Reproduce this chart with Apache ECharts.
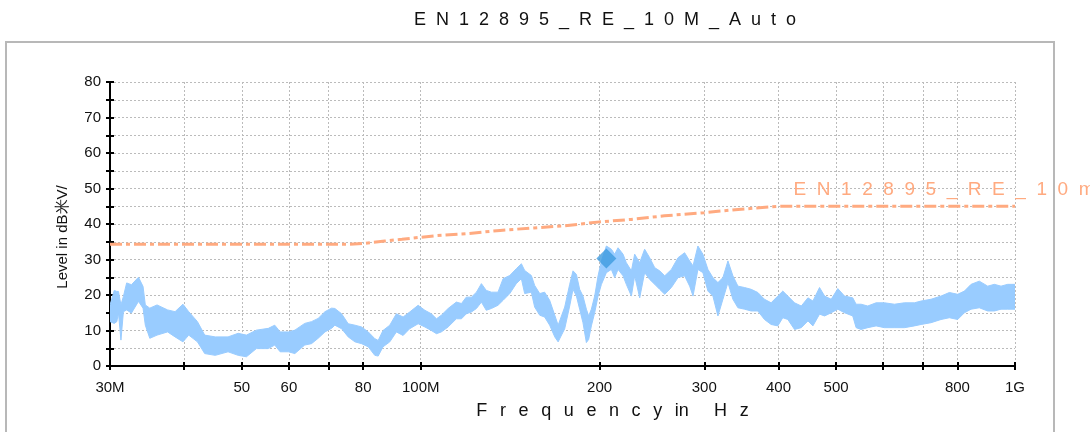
<!DOCTYPE html>
<html><head><meta charset="utf-8">
<script src="https://cdn.jsdelivr.net/npm/echarts@6/dist/echarts.min.js"></script>
<style>html,body{margin:0;padding:0;background:#fff}#c{width:1090px;height:432px}</style>
</head><body><div id="c"></div>
<script>
const TITLE = 'EN12895_RE_10M_Auto';
const X_NAME = 'Frequency in Hz';
const Y_NAME = 'Level in dB米V/';
const LIMIT_NAME = 'EN12895_RE_10m';

const X_TICKS = [30, 40, 50, 60, 70, 80, 100, 200, 300, 400, 500, 600, 700, 800, 1000];
const X_LABELS = [30, 50, 60, 80, 100, 200, 300, 400, 500, 800, 1000];
const X_LABEL_TEXT = {30: '30M', 100: '100M', 1000: '1G'};

// Measured trace envelope (MHz, dB): lower and upper edge of the noisy sweep
const FREQ = [30.0,30.5,30.8,31.0,31.3,31.6,32.0,32.6,33.5,34.1,34.4,35.0,36.0,37.5,38.6,39.8,40.7,42.1,43.3,45.1,47.4,49.3,50.9,52.9,55.4,56.8,58.0,59.9,61.4,63.8,65.5,67.2,69.0,70.8,
  71.7,73.6,75.5,77.5,79.5,81.6,83.7,84.8,86.4,88.7,91.0,93.4,95.8,99.0,101.6,104.2,106.3,108.3,111.2,114.8,117.1,119.3,121.7,124.1,126.5,128.9,131.5,134.9,137.6,141.2,144.8,147.7,149.6,153.5,155.5,158.6,161.6,164.8,168.1,170.3,174.7,
  178.1,180.4,182.8,185.1,187.5,190.0,191.7,193.7,196.2,198.8,201.4,205.3,209.3,212.0,214.8,219.0,221.8,226.2,229.1,233.6,238.1,242.8,247.6,252.4,257.4,264.1,271.0,278.0,283.5,287.2,292.7,298.4,304.3,310.2,316.3,322.5,328.8,335.2,341.8,350.7,359.8,369.2,378.8,388.7,398.9,406.7,414.7,425.6,
  436.9,448.3,457.0,468.9,478.2,490.6,503.4,516.5,533.3,540.3,550.8,565.2,583.8,603.0,626.8,651.5,677.2,695.0,722.3,750.8,775.5,800.9,822.0,843.5,870.8,899.6,923.2,947.3,972.1,1000];
const LO = [12.5,12.0,12.5,14.9,7.3,15.3,15.8,14.9,18.2,16.3,11.5,7.8,8.7,9.6,8.2,6.8,8.7,6.8,3.5,3.0,4.0,3.0,2.6,4.9,4.9,5.9,4.0,4.0,3.5,5.9,6.3,7.8,9.6,10.6,
  11.5,10.5,8.2,6.8,6.3,5.4,3.0,2.8,5.4,6.8,9.6,8.6,10.5,11.9,11.0,10.0,9.1,9.6,11.0,13.3,13.3,14.7,15.2,16.2,18.0,15.7,16.2,17.1,18.5,20.4,23.2,24.6,20.4,20.8,16.6,14.3,13.8,11.5,8.2,6.8,10.5,
  16.9,21.6,19.7,16.0,12.2,6.6,7.5,11.3,15.0,19.7,23.0,26.3,27.2,24.9,27.2,25.4,23.0,19.7,25.4,19.2,26.3,24.4,23.0,21.6,20.2,22.1,24.9,25.4,22.5,19.7,27.2,26.3,21.1,19.7,14.1,18.8,23.5,18.8,16.4,16.0,15.5,15.5,13.1,11.7,11.3,13.6,13.1,10.3,
  10.8,12.7,11.3,14.6,14.1,15.0,16.0,15.0,14.1,10.8,10.3,10.8,11.3,10.8,10.8,10.8,11.3,11.7,12.2,13.1,13.6,13.1,15.0,16.0,16.4,15.5,15.5,16.0,16.0,16.0];
const HI = [17.2,21.3,21.0,21.0,17.2,19.6,23.4,22.9,25.0,22.4,17.2,16.3,17.2,15.8,15.3,17.4,15.3,12.5,8.7,8.2,8.2,9.2,8.7,10.1,10.6,11.5,9.6,9.6,10.1,12.0,12.5,13.4,15.3,16.3,
  16.2,14.7,11.9,11.5,11.0,9.6,7.7,7.2,10.0,11.5,14.7,13.8,15.2,17.1,15.7,14.7,13.3,14.3,16.2,18.0,17.6,19.4,19.4,20.8,23.2,21.3,20.8,20.8,24.6,25.5,27.4,28.8,26.9,25.5,22.7,20.4,20.8,18.5,14.3,11.5,16.6,
  23.0,26.8,25.8,21.6,19.7,16.0,14.1,16.0,19.7,25.4,29.6,33.8,32.9,31.5,33.3,31.5,29.1,26.8,31.5,29.1,32.9,30.5,27.7,26.8,25.4,27.2,30.5,31.9,29.6,28.2,33.8,31.5,27.2,24.9,23.5,24.9,29.6,25.4,22.5,22.1,21.6,20.7,18.8,17.8,19.7,21.1,19.7,17.8,
  16.9,19.2,18.3,22.1,19.7,18.8,21.8,19.7,19.2,17.4,17.4,16.9,17.8,17.8,17.4,17.8,17.8,18.3,18.8,19.7,20.7,20.2,21.1,23.0,23.9,22.5,23.0,22.5,23.0,23.0];

const LIMIT_FREQ = [30, 76, 80, 87, 93, 99, 106, 120, 136, 155, 175, 200, 226, 257, 300, 342, 400, 1000];
const LIMIT_LEVEL = [34.3, 34.3, 34.5, 35.2, 35.7, 36.2, 36.7, 37.3, 38.2, 38.9, 39.5, 40.6, 41.3, 42.3, 43.2, 44.1, 45.0, 45.0];
const LIMIT_LABEL_AT = [424, 49.7];
const PEAK = [205.3, 30.3];

const FONT = "'Liberation Sans', Arial, sans-serif";
const spaced = (s, gap) => s.split('').join(gap);
const pairs = (xs, ys) => xs.map((x, i) => [x, ys[i]]);
const TRACE = '#99CCFF';
const LIMIT_C = '#FFAA80';
const NG = '\u2002\u2009';

const xBase = {type: 'log', logBase: 10, min: 30, max: 1000, position: 'bottom', gridIndex: 0};
const yBase = {type: 'value', min: 0, max: 80, interval: 5, position: 'left', gridIndex: 0};

const chart = echarts.init(document.getElementById('c'), null, {renderer: 'canvas'});
chart.setOption({
  animation: false,
  backgroundColor: '#fff',
  graphic: [
    {type: 'rect', silent: true, z: -10, shape: {x: 6, y: 42, width: 1048, height: 400},
     style: {fill: 'none', stroke: '#b8b8b8', lineWidth: 2}},
    {type: 'text', silent: true, x: 605, y: 20,
     style: {text: spaced(TITLE, '  '), font: "18px 'Liberation Sans', Arial, sans-serif", fill: '#111', textAlign: 'center', textVerticalAlign: 'middle'}}
  ],
  grid: {left: 110, right: 75, top: 82, bottom: 66, containLabel: false, outerBoundsMode: 'none'},
  xAxis: [
    Object.assign({}, xBase, {
      axisLine: {show: true, onZero: false, lineStyle: {color: '#000', width: 2}},
      axisTick: {show: true, customValues: X_TICKS, length: 4, lineStyle: {color: '#000', width: 2}},
      minorTick: {show: false},
      axisLabel: {show: true, customValues: X_LABELS, formatter: v => X_LABEL_TEXT[Math.round(v)] || String(Math.round(v)),
        margin: 14, fontSize: 15, color: '#111', fontFamily: FONT},
      splitLine: {show: true, lineStyle: {color: '#bbb', width: 1, type: [2, 2]}},
      name: spaced('Frequency', NG) + NG + 'in' + NG + NG + spaced('Hz', NG),
      nameLocation: 'middle', nameGap: 36,
      nameTextStyle: {fontSize: 18, color: '#111', fontFamily: FONT, padding: [0, 0, 0, 100]}
    }),
    Object.assign({}, xBase, {
      axisLine: {show: false, onZero: false},
      axisTick: {show: true, inside: true, customValues: X_TICKS, length: 4, lineStyle: {color: '#000', width: 2}},
      axisLabel: {show: false}, splitLine: {show: false}
    })
  ],
  yAxis: [
    Object.assign({}, yBase, {
      axisLine: {show: true, onZero: false, lineStyle: {color: '#000', width: 2}},
      axisTick: {show: true, length: 4, lineStyle: {color: '#000', width: 2}},
      axisLabel: {formatter: v => (v % 10 === 0 ? String(v) : ''), margin: 9, fontSize: 15, color: '#111', fontFamily: FONT},
      splitLine: {show: true, lineStyle: {color: '#bbb', width: 1, type: [2, 2]}},
      name: Y_NAME, nameLocation: 'middle', nameRotate: 90, nameGap: 40,
      nameTextStyle: {fontSize: 15, color: '#111', fontFamily: FONT, padding: [0, 26, 0, 0]}
    }),
    Object.assign({}, yBase, {
      axisLine: {show: false, onZero: false},
      axisTick: {show: true, inside: true, length: 4, lineStyle: {color: '#000', width: 2}},
      axisLabel: {show: false}, splitLine: {show: false}
    })
  ],
  series: [
    {type: 'custom', name: 'trace', coordinateSystem: 'cartesian2d', xAxisIndex: 0, yAxisIndex: 0,
     data: pairs(FREQ, HI), clip: true, silent: true, z: 2,
     renderItem: (params, api) => {
       if (params.dataIndex !== 0) return null;
       const pts = [];
       for (let i = 0; i < FREQ.length; i++) pts.push(api.coord([FREQ[i], HI[i]]));
       for (let i = FREQ.length - 1; i >= 0; i--) pts.push(api.coord([FREQ[i], LO[i]]));
       return {type: 'polygon', shape: {points: pts}, style: {fill: TRACE, stroke: TRACE, lineWidth: 1}};
     }},
    {type: 'line', name: LIMIT_NAME, data: pairs(LIMIT_FREQ, LIMIT_LEVEL), symbol: 'none', silent: true, z: 3,
     lineStyle: {color: LIMIT_C, width: 3, type: [12, 4, 4, 4]},
     markPoint: {symbol: 'circle', symbolSize: 0, silent: true,
       data: [{coord: LIMIT_LABEL_AT}],
       label: {show: true, position: 'right', distance: 0, formatter: spaced(LIMIT_NAME, '  '),
         color: LIMIT_C, fontSize: 19, fontFamily: FONT}}},
    {type: 'scatter', name: 'peak', data: [PEAK], symbol: 'diamond', symbolSize: 20, silent: true, z: 5,
     itemStyle: {color: '#3D9BE0'}}
  ]
});
</script></body></html>
